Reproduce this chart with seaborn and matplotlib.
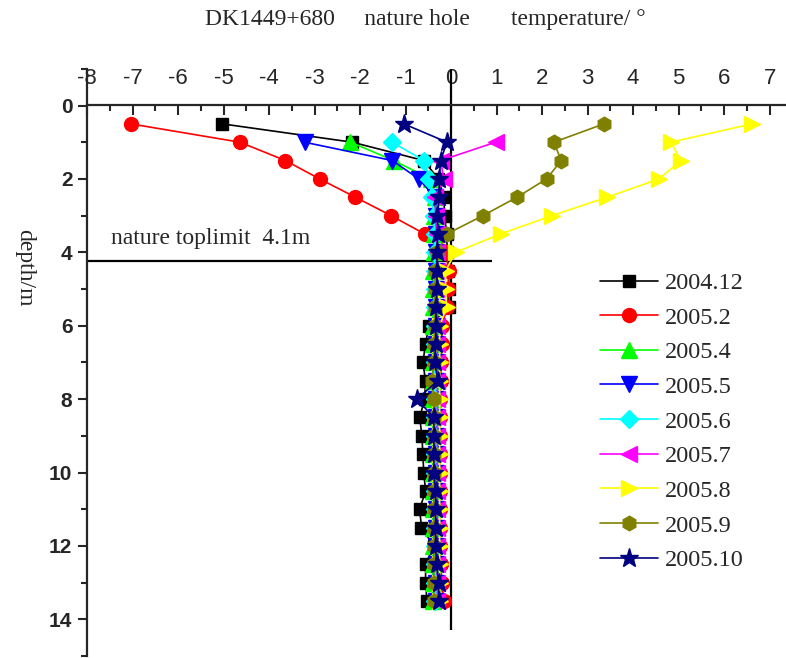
import matplotlib
matplotlib.use("Agg")
import matplotlib.pyplot as plt
from matplotlib.ticker import MultipleLocator
import seaborn as sns

# ---------------- data ----------------
DEPTH_FULL = [0.5, 1.0, 1.5, 2.0, 2.5, 3.0, 3.5, 4.0, 4.5, 5.0, 5.5, 6.0, 6.5,
              7.0, 7.5, 8.0, 8.5, 9.0, 9.5, 10.0, 10.5, 11.0, 11.5, 12.0, 12.5,
              13.0, 13.5]
DEPTH_FROM1 = [1.0, 1.5, 2.0, 2.5, 3.0, 3.5, 4.0, 4.5, 5.0, 5.5, 6.0, 6.5,
               7.0, 7.5, 8.0, 8.5, 9.0, 9.5, 10.0, 10.5, 11.0, 11.5, 12.0, 12.5,
               13.0, 13.5]

t_2004_12 = [-5.03, -2.17, -0.60, -0.28, -0.16, -0.14, -0.10, -0.08, -0.06, -0.05,
             -0.05, -0.49, -0.56, -0.62, -0.56, -0.58, -0.69, -0.64, -0.62, -0.60,
             -0.56, -0.69, -0.65, -0.38, -0.56, -0.56, -0.53]
t_2005_2 = [-7.04, -4.64, -3.64, -2.89, -2.10, -1.32, -0.58, -0.12, -0.05, -0.06,
            -0.09, -0.20, -0.21, -0.22, -0.23, -0.25, -0.25, -0.25, -0.25, -0.25,
            -0.25, -0.25, -0.25, -0.25, -0.23, -0.20, -0.16]
t_2005_4 = [-2.21, -1.26, -0.45, -0.35, -0.38, -0.38, -0.38, -0.40, -0.40, -0.40,
            -0.40, -0.40, -0.40, -0.40, -0.40, -0.40, -0.40, -0.40, -0.40, -0.40,
            -0.40, -0.40, -0.40, -0.40, -0.40, -0.40]
t_2005_5 = [-3.22, -1.29, -0.71, -0.35, -0.33, -0.33, -0.33, -0.33, -0.33, -0.33,
            -0.33, -0.33, -0.33, -0.33, -0.33, -0.33, -0.33, -0.33, -0.33, -0.33,
            -0.33, -0.33, -0.33, -0.33, -0.33, -0.33]
t_2005_6 = [-1.30, -0.59, -0.48, -0.42, -0.38, -0.36, -0.36, -0.36, -0.36, -0.36,
            -0.36, -0.36, -0.36, -0.36, -0.36, -0.36, -0.36, -0.36, -0.36, -0.36,
            -0.36, -0.36, -0.36, -0.36, -0.36, -0.36]
t_2005_7 = [0.98, -0.23, -0.16, -0.35, -0.34, -0.32, -0.30, -0.30, -0.30, -0.30,
            -0.30, -0.30, -0.30, -0.30, -0.30, -0.30, -0.30, -0.30, -0.30, -0.30,
            -0.30, -0.30, -0.30, -0.30, -0.30, -0.30]
t_2005_8 = [6.62, 4.83, 5.05, 4.57, 3.43, 2.22, 1.09, 0.10, -0.12, -0.12, -0.10,
            -0.25, -0.25, -0.25, -0.25, -0.25, -0.25, -0.25, -0.25, -0.25, -0.25,
            -0.25, -0.25, -0.25, -0.25, -0.25, -0.25]
t_2005_9 = [3.36, 2.26, 2.42, 2.10, 1.45, 0.70, -0.09, -0.30, -0.35, -0.35, -0.36,
            -0.36, -0.37, -0.38, -0.42, -0.38, -0.38, -0.38, -0.38, -0.38, -0.38,
            -0.38, -0.38, -0.38, -0.38, -0.38, -0.38]
t_2005_10 = [-1.04, -0.09, -0.23, -0.26, -0.26, -0.30, -0.29, -0.31, -0.31, -0.31,
             -0.33, -0.33, -0.34, -0.36, -0.29, -0.75, -0.38, -0.38, -0.38, -0.38,
             -0.34, -0.34, -0.34, -0.34, -0.32, -0.27, -0.27]

LABELS = ["2004.12", "2005.2", "2005.4", "2005.5", "2005.6",
          "2005.7", "2005.8", "2005.9", "2005.10"]
SERIES = [t_2004_12, t_2005_2, t_2005_4, t_2005_5, t_2005_6,
          t_2005_7, t_2005_8, t_2005_9, t_2005_10]
DEPTHS = [DEPTH_FULL, DEPTH_FULL, DEPTH_FROM1, DEPTH_FROM1, DEPTH_FROM1,
          DEPTH_FROM1, DEPTH_FULL, DEPTH_FULL, DEPTH_FULL]
COLORS = ["#000000", "#FF0000", "#00FF00", "#0000FF", "#00FFFF",
          "#FF00FF", "#FFFF00", "#808000", "#000080"]
MARKERS = ["s", "o", "^", "v", "D", "<", ">", "h", "*"]
MSIZES = [9, 10, 11, 11, 9, 11, 11, 10.5, 14]

TOPLIMIT = 4.23
TOPLIMIT_TEXT = "nature toplimit  4.1m"
TITLE = "DK1449+680     nature hole       temperature/ \u00b0"
YLABEL = "depth/m"
XTICKS = list(range(-8, 8))
YTICKS = [0, 2, 4, 6, 8, 10, 12, 14]

# ---------------- figure ----------------
sns.set_style("ticks")
plt.rcParams["font.family"] = ["Liberation Sans", "DejaVu Sans"]
SERIF = ["Liberation Serif", "DejaVu Serif"]

W, H = 786, 658
fig = plt.figure(figsize=(W / 100, H / 100), dpi=100)
top_px, bot_px = 68.8, 656.0
ax = fig.add_axes([87 / W, (H - bot_px) / H, (W - 87) / W, (bot_px - top_px) / H])
ax.set_facecolor("white")

ax.set_xlim(-8, 7.36)
ax.set_ylim(15, -1)

# reference lines
ax.vlines(0, -1, 14.3, color="black", lw=1.6, zorder=1)
ax.hlines(TOPLIMIT, -8, 0.9, color="black", lw=1.6, zorder=1)

for temps, deps, lab, col, mk, ms in zip(SERIES, DEPTHS, LABELS, COLORS, MARKERS, MSIZES):
    sns.lineplot(x=temps, y=deps, ax=ax, color=col, marker=mk, markersize=ms,
                 markeredgecolor=col, markeredgewidth=1, linewidth=1.2,
                 estimator=None, sort=False, orient="y", label=lab, legend=False)

# spines / ticks
for s in ["right", "bottom"]:
    ax.spines[s].set_visible(False)
ax.spines["top"].set_position(("data", 0))
ax.spines["top"].set_linewidth(1.6)
ax.spines["left"].set_linewidth(1.6)

ax.xaxis.set_ticks_position("top")
ax.set_xticks(XTICKS)
ax.set_xticklabels([str(v) for v in XTICKS])
ax.xaxis.set_minor_locator(MultipleLocator(0.5))
ax.tick_params(axis="x", which="major", direction="in", length=7, width=1.5,
               pad=12, labelsize=16)
ax.tick_params(axis="x", which="minor", direction="in", length=4, width=1.5)

ax.set_yticks(YTICKS)
ax.set_yticklabels([str(v) for v in YTICKS], fontweight="bold")
ax.yaxis.set_minor_locator(MultipleLocator(1))
ax.tick_params(axis="y", which="major", direction="out", length=6.5, width=1.5,
               pad=4, labelsize=15)
ax.tick_params(axis="y", which="minor", direction="out", length=4, width=1.5)
ax.set_xlabel("")
ax.set_ylabel("")

ax.text(-7.48, 3.62, TOPLIMIT_TEXT, ha="left", va="center",
        fontsize=17, family=SERIF)

fig.text(205 / W, 1 - 19 / H, TITLE, ha="left", va="center", fontsize=17, family=SERIF)
fig.text(25 / W, 1 - 268 / H, YLABEL, ha="center", va="center", rotation=-90,
         fontsize=17, family=SERIF)

handles, labels = ax.get_legend_handles_labels()
ax.legend(handles, labels, loc="upper left",
          bbox_to_anchor=(600 / W, 1 - 272 / H), bbox_transform=fig.transFigure,
          frameon=False, prop={"family": SERIF, "size": 17.5},
          handlelength=2.4, handletextpad=0.25, labelspacing=0.52,
          borderpad=0, borderaxespad=0, numpoints=1)

fig.savefig("out.png", dpi=100, facecolor="white")
